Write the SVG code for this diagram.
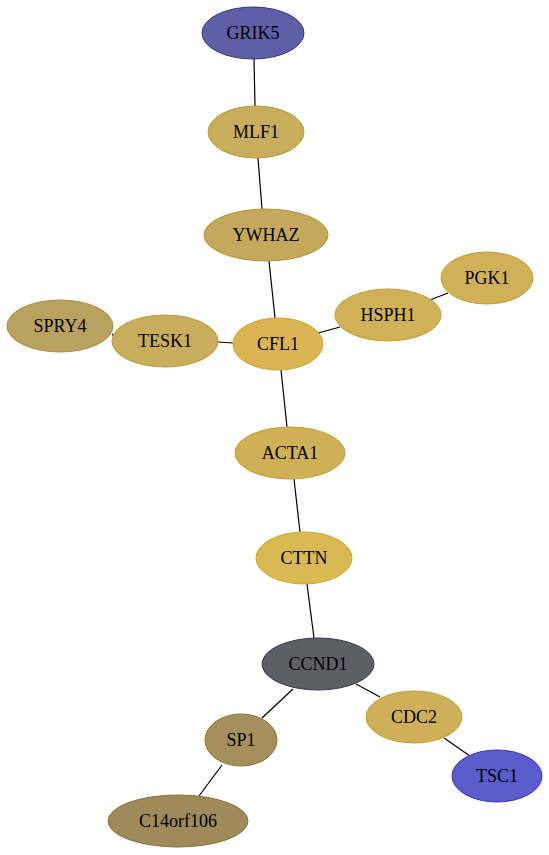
<svg xmlns="http://www.w3.org/2000/svg" width="549" height="855" viewBox="0 0 549 855">
<style>
.e{stroke:#000;stroke-width:1.2;fill:none}
ellipse{stroke-width:1}
text{font-family:"Liberation Serif","Times New Roman",serif;font-size:18px;text-anchor:middle;dominant-baseline:central;fill:#000}
</style>
<rect width="549" height="855" fill="#fff"/>
<g id="edges">
<line class="e" x1="254" y1="59" x2="255" y2="106"/>
<line class="e" x1="258" y1="158" x2="262" y2="209"/>
<line class="e" x1="269" y1="261" x2="275" y2="318"/>
<line class="e" x1="318" y1="333" x2="340" y2="327"/>
<line class="e" x1="430" y1="300" x2="448" y2="293"/>
<line class="e" x1="112" y1="334" x2="114" y2="336"/>
<line class="e" x1="218" y1="342" x2="233" y2="343"/>
<line class="e" x1="281" y1="370" x2="287" y2="427"/>
<line class="e" x1="294" y1="479" x2="300" y2="532"/>
<line class="e" x1="307" y1="584" x2="314" y2="638"/>
<line class="e" x1="293" y1="689" x2="262" y2="718"/>
<line class="e" x1="356" y1="684" x2="380" y2="697"/>
<line class="e" x1="444" y1="738" x2="470" y2="756"/>
<line class="e" x1="222" y1="765" x2="199" y2="796"/>
</g>
<g id="GRIK5"><ellipse cx="253" cy="33" rx="51" ry="26" fill="#5f5fa8" stroke="#35358a"/><text x="253" y="33">GRIK5</text></g>
<g id="MLF1"><ellipse cx="256" cy="132" rx="48" ry="26" fill="#c8ad5c" stroke="#b89a38"/><text x="256" y="132">MLF1</text></g>
<g id="YWHAZ"><ellipse cx="266" cy="235" rx="62" ry="26" fill="#c4a95c" stroke="#b09436"/><text x="266" y="235">YWHAZ</text></g>
<g id="PGK1"><ellipse cx="487" cy="278" rx="46" ry="26" fill="#d0b158" stroke="#c09e36"/><text x="487" y="278">PGK1</text></g>
<g id="HSPH1"><ellipse cx="388" cy="315" rx="53" ry="26" fill="#d0b158" stroke="#c09e36"/><text x="388" y="315">HSPH1</text></g>
<g id="SPRY4"><ellipse cx="60" cy="326" rx="53" ry="26" fill="#b9a25f" stroke="#a88f3a"/><text x="60" y="326">SPRY4</text></g>
<g id="TESK1"><ellipse cx="165" cy="341" rx="53" ry="26" fill="#c8ad5c" stroke="#b89a38"/><text x="165" y="341">TESK1</text></g>
<g id="CFL1"><ellipse cx="278" cy="344" rx="45" ry="26" fill="#dab552" stroke="#cca232"/><text x="278" y="344">CFL1</text></g>
<g id="ACTA1"><ellipse cx="290" cy="453" rx="55" ry="26" fill="#cfb055" stroke="#bf9d34"/><text x="290" y="453">ACTA1</text></g>
<g id="CTTN"><ellipse cx="304" cy="558" rx="48" ry="26" fill="#dab953" stroke="#cca632"/><text x="304" y="558">CTTN</text></g>
<g id="CCND1"><ellipse cx="318" cy="664" rx="56" ry="26" fill="#5e5e67" stroke="#3a3a48"/><text x="318" y="664">CCND1</text></g>
<g id="CDC2"><ellipse cx="414" cy="717" rx="48" ry="26" fill="#cfb059" stroke="#bf9d36"/><text x="414" y="717">CDC2</text></g>
<g id="SP1"><ellipse cx="241" cy="740" rx="36" ry="26" fill="#a48f5d" stroke="#8c7636"/><text x="241" y="740">SP1</text></g>
<g id="TSC1"><ellipse cx="497" cy="776" rx="45" ry="26" fill="#5b5bcc" stroke="#3535b8"/><text x="497" y="776">TSC1</text></g>
<g id="C14orf106"><ellipse cx="178" cy="821" rx="70" ry="26" fill="#9f8a5c" stroke="#867036"/><text x="178" y="821">C14orf106</text></g>
</svg>
